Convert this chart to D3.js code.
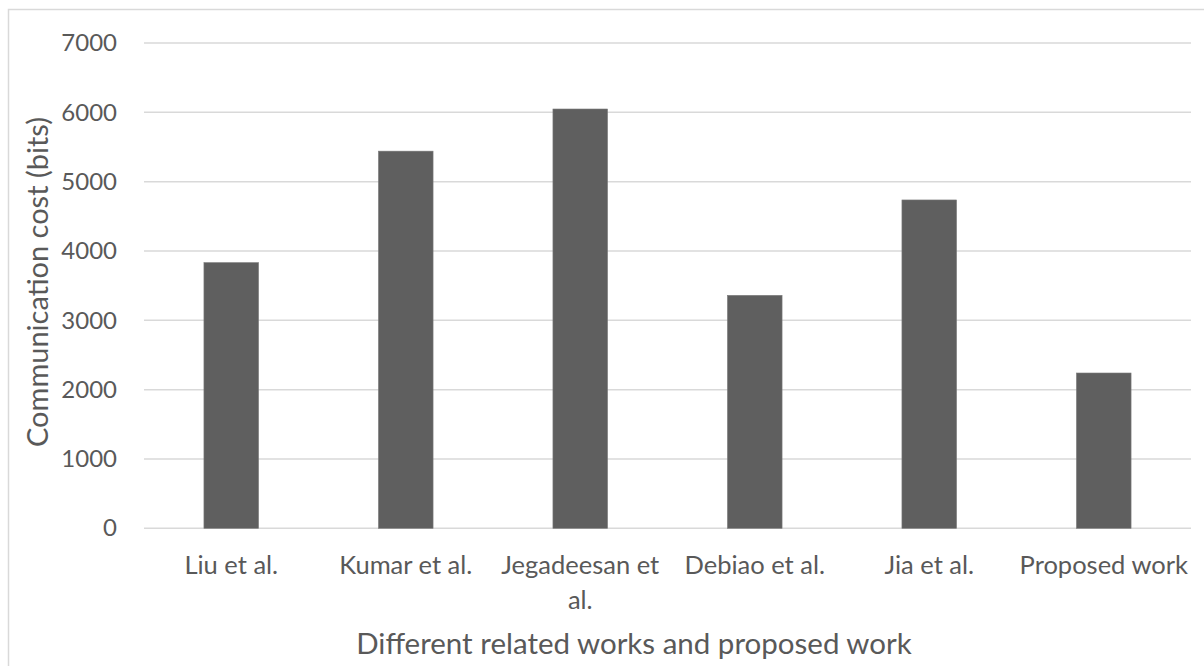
<!DOCTYPE html>
<html>
<head>
<meta charset="utf-8">
<script src="https://cdn.jsdelivr.net/npm/d3@7"></script>
<style>
  html, body { margin: 0; padding: 0; background: #fff; }
  svg { display: block; font-family: Lato, "Open Sans", sans-serif; }
</style>
</head>
<body>
<script>
WIDTH = 1204;
HEIGHT = 666;
MARGIN = ({top: 43, right: 13, bottom: 138, left: 144});
BAR_COLOR = "#5f5f5f";
GRID_COLOR = "#d9d9d9";
TEXT_COLOR = "#595959";

// chart data
var categories = ["Liu et al.", "Kumar et al.", "Jegadeesan et al.", "Debiao et al.", "Jia et al.", "Proposed work"];
var costBits = [3832, 5440, 6048, 3360, 4736, 2240];
var yTicks = [0, 1000, 2000, 3000, 4000, 5000, 6000, 7000];
var xTitle = "Different related works and proposed work";
var yTitle = "Communication cost (bits)";

var data = categories.map((c, i) => ({name: c, value: costBits[i]}));

var svg = d3.select("body").append("svg")
    .attr("width", WIDTH)
    .attr("height", HEIGHT);

// outer chart frame (runs off the right / bottom edge like the source)
svg.append("rect")
    .attr("x", 8.5).attr("y", 9.5)
    .attr("width", WIDTH).attr("height", HEIGHT)
    .attr("fill", "none")
    .attr("stroke", "#d9d9d9")
    .attr("stroke-width", 1.5);

var x = d3.scaleBand()
    .domain(categories)
    .range([MARGIN.left, WIDTH - MARGIN.right])
    .paddingInner(0.687)
    .paddingOuter(0.3435);

var y = d3.scaleLinear()
    .domain([0, 7000])
    .range([HEIGHT - MARGIN.bottom + 0.3, MARGIN.top]);

// gridlines
svg.append("g")
    .attr("class", "grid")
  .selectAll("line")
  .data(yTicks)
  .enter().append("line")
    .attr("x1", MARGIN.left)
    .attr("x2", WIDTH - MARGIN.right)
    .attr("y1", d => y(d))
    .attr("y2", d => y(d))
    .attr("stroke", GRID_COLOR)
    .attr("stroke-width", 1.5);

// bars
svg.append("g")
  .selectAll("rect")
  .data(data)
  .enter().append("rect")
    .attr("x", d => x(d.name))
    .attr("width", x.bandwidth())
    .attr("y", d => y(d.value))
    .attr("height", d => y(0) - y(d.value))
    .attr("fill", BAR_COLOR)
    .attr("stroke", "#7a7a7a")
    .attr("stroke-width", 0.6);

// y axis labels
var yAxis = g => g
    .attr("transform", `translate(${MARGIN.left},0)`)
    .call(d3.axisLeft(y).tickValues(yTicks).tickSize(0).tickPadding(27).tickFormat(d3.format("d")))
    .call(g => g.select(".domain").remove())
    .call(g => g.selectAll("text")
        .attr("fill", TEXT_COLOR)
        .attr("font-size", 24)
        .attr("font-family", "Lato, sans-serif"));

svg.append("g").call(yAxis);

// x axis labels, wrapped to the band step
var xAxis = g => g
    .attr("transform", `translate(0,${y(0)})`)
    .call(d3.axisBottom(x).tickSize(0).tickPadding(28))
    .call(g => g.select(".domain").remove())
    .call(g => g.selectAll("text")
        .attr("fill", TEXT_COLOR)
        .attr("font-size", 25.5)
        .attr("font-family", "Lato, sans-serif"));

svg.append("g").call(xAxis).selectAll(".tick text").call(wrap, x.step());

function wrap(texts, width) {
  texts.each(function() {
    var text = d3.select(this);
    var words = text.text().split(/\s+/);
    var yy = text.attr("y");
    var dy = parseFloat(text.attr("dy")) || 0;
    text.text(null);
    var line = [];
    var lineNo = 0;
    var tspan = text.append("tspan").attr("x", 0).attr("y", yy).attr("dy", dy + "em");
    words.forEach(w => {
      line.push(w);
      tspan.text(line.join(" "));
      if (tspan.node().getComputedTextLength() > width - 2 && line.length > 1) {
        line.pop();
        tspan.text(line.join(" "));
        line = [w];
        lineNo++;
        tspan = text.append("tspan").attr("x", 0).attr("y", yy)
            .attr("dy", (dy + lineNo * 1.34) + "em").text(w);
      }
    });
  });
}

// axis titles
svg.append("text")
    .attr("x", 634)
    .attr("y", 654)
    .attr("text-anchor", "middle")
    .attr("fill", TEXT_COLOR)
    .attr("font-size", 29.5)
    .text(xTitle);

svg.append("text")
    .attr("transform", `translate(48,282) rotate(-90)`)
    .attr("text-anchor", "middle")
    .attr("fill", TEXT_COLOR)
    .attr("font-size", 29)
    .text(yTitle);
</script>
</body>
</html>
